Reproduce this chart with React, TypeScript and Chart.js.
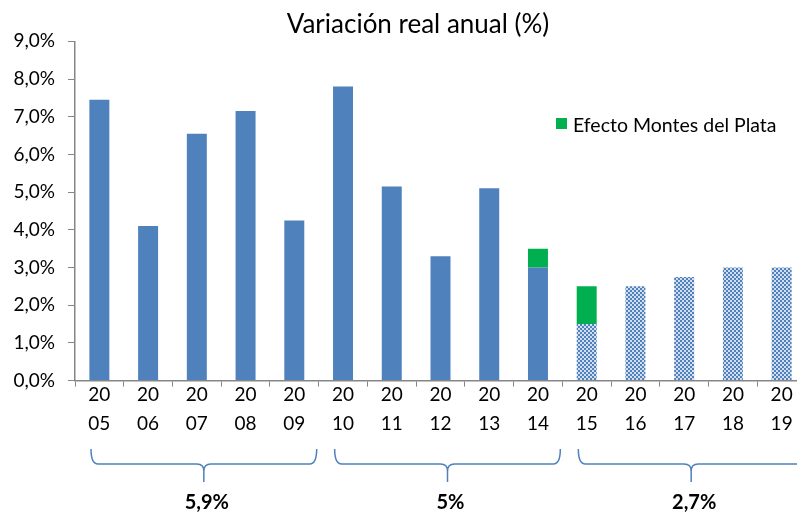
import React, { useEffect, useRef } from 'react';
import { Chart, registerables } from 'chart.js';

Chart.register(...registerables);

const years = ['2005', '2006', '2007', '2008', '2009', '2010', '2011', '2012', '2013', '2014', '2015', '2016', '2017', '2018', '2019'];
const realGrowth = [7.45, 4.1, 6.55, 7.15, 4.25, 7.8, 5.15, 3.3, 5.1, 3.0, 1.5, 2.5, 2.75, 3.0, 3.0];
const montesEffect = [0, 0, 0, 0, 0, 0, 0, 0, 0, 0.5, 1.0, 0, 0, 0, 0];
const firstProjected = 10;
const periodLabels = ['5,9%', '5%', '2,7%'];
const periodStart = [0, 5, 10];
const periodEnd = [4, 9, 14];
const titleText = 'Variación real anual (%)';
const legendText = 'Efecto Montes del Plata';

const BLUE = '#4F81BD';
const GREEN = '#00B050';
const AXIS = '#868686';
const FONT = 'Lato, "Open Sans", sans-serif';

function makePattern(): CanvasPattern | string {
  const c = document.createElement('canvas');
  c.width = 4;
  c.height = 4;
  const g = c.getContext('2d');
  if (!g) return BLUE;
  g.fillStyle = '#D2DEEE';
  g.fillRect(0, 0, 4, 4);
  g.fillStyle = BLUE;
  g.fillRect(0, 0, 2, 2);
  g.fillRect(2, 2, 2, 2);
  const p = g.createPattern(c, 'repeat');
  return p || BLUE;
}

const decorPlugin = {
  id: 'decor',
  afterDraw(chart: any) {
    const ctx = chart.ctx as CanvasRenderingContext2D;
    const x = chart.scales.x;
    ctx.save();
    // title
    ctx.fillStyle = '#000';
    ctx.font = `26px ${FONT}`;
    ctx.textAlign = 'center';
    ctx.textBaseline = 'alphabetic';
    ctx.fillText(titleText, 418, 33);

    // legend
    ctx.fillStyle = GREEN;
    ctx.fillRect(556, 118, 11, 11);
    ctx.fillStyle = '#000';
    ctx.font = `19.5px ${FONT}`;
    ctx.textAlign = 'left';
    ctx.textBaseline = 'middle';
    ctx.fillText(legendText, 573, 126);

    // braces
    const w = x.getPixelForValue(1) - x.getPixelForValue(0);
    const edge = (k: number) => x.getPixelForValue(0) - w / 2 + k * w;
    const top = 449, mid = 464, bot = 482, r = 7;
    ctx.strokeStyle = BLUE;
    ctx.lineWidth = 1.5;
    for (let i = 0; i < periodLabels.length; i++) {
      const L = edge(periodStart[i]) + 16;
      const R = edge(periodEnd[i] + 1) - 2;
      const T = (L + R) / 2;
      ctx.beginPath();
      ctx.moveTo(L, top);
      ctx.quadraticCurveTo(L, mid, L + r, mid);
      ctx.lineTo(T - r, mid);
      ctx.quadraticCurveTo(T, mid, T, mid + r);
      ctx.lineTo(T, bot);
      ctx.moveTo(T, mid + r);
      ctx.quadraticCurveTo(T, mid, T + r, mid);
      ctx.lineTo(R - r, mid);
      ctx.quadraticCurveTo(R, mid, R, top);
      ctx.stroke();

      ctx.fillStyle = '#000';
      ctx.font = `bold 20px ${FONT}`;
      ctx.textAlign = 'center';
      ctx.textBaseline = 'middle';
      ctx.fillText(periodLabels[i], T + 3, 503);
    }
    ctx.restore();
  },
};

export default function App() {
  const ref = useRef<HTMLCanvasElement | null>(null);
  useEffect(() => {
    if (!ref.current) return;
    const pattern = makePattern();
    const baseColors = realGrowth.map((_, i) => (i >= firstProjected ? pattern : BLUE));
    const chart = new Chart(ref.current, {
      type: 'bar',
      data: {
        labels: years.map((y) => [y.slice(0, 2), y.slice(2)]),
        datasets: [
          {
            label: 'Variación real anual',
            data: realGrowth,
            backgroundColor: baseColors as any,
            barPercentage: 0.41,
            categoryPercentage: 1,
          },
          {
            label: legendText,
            data: montesEffect,
            backgroundColor: GREEN,
            barPercentage: 0.41,
            categoryPercentage: 1,
          },
        ],
      },
      options: {
        responsive: false,
        animation: false,
        layout: { padding: { top: 41.3, right: 24, bottom: 0, left: 0 } },
        plugins: {
          legend: { display: false },
          title: { display: false },
          tooltip: { enabled: false },
        },
        scales: {
          x: {
            stacked: true,
            grid: {
              display: true,
              drawOnChartArea: false,
              drawTicks: true,
              tickLength: 6,
              color: AXIS,
              offset: true,
            },
            border: { display: true, color: AXIS, width: 1.5 },
            ticks: {
              color: '#000',
              font: { family: FONT, size: 19, lineHeight: 1.56 },
              padding: -7,
              maxRotation: 0,
              autoSkip: false,
            },
            afterFit: (s: any) => {
              s.height = 135.4;
            },
          },
          y: {
            stacked: true,
            min: 0,
            max: 9,
            grid: {
              display: true,
              drawOnChartArea: false,
              drawTicks: true,
              tickLength: 7,
              color: AXIS,
            },
            border: { display: true, color: AXIS, width: 1.5 },
            ticks: {
              stepSize: 1,
              color: '#000',
              font: { family: FONT, size: 19 },
              padding: 13,
              callback: (v: any) => Number(v).toFixed(1).replace('.', ',') + '%',
            },
            afterFit: (s: any) => {
              s.width = 75;
            },
          },
        },
      },
      plugins: [decorPlugin],
    });
    return () => chart.destroy();
  }, []);
  return (
    <div style={{ position: 'fixed', left: 0, top: 0, width: 797, height: 516, overflow: 'hidden', background: '#fff' }}>
      <canvas ref={ref} width={830} height={516} style={{ display: 'block' }} />
    </div>
  );
}
